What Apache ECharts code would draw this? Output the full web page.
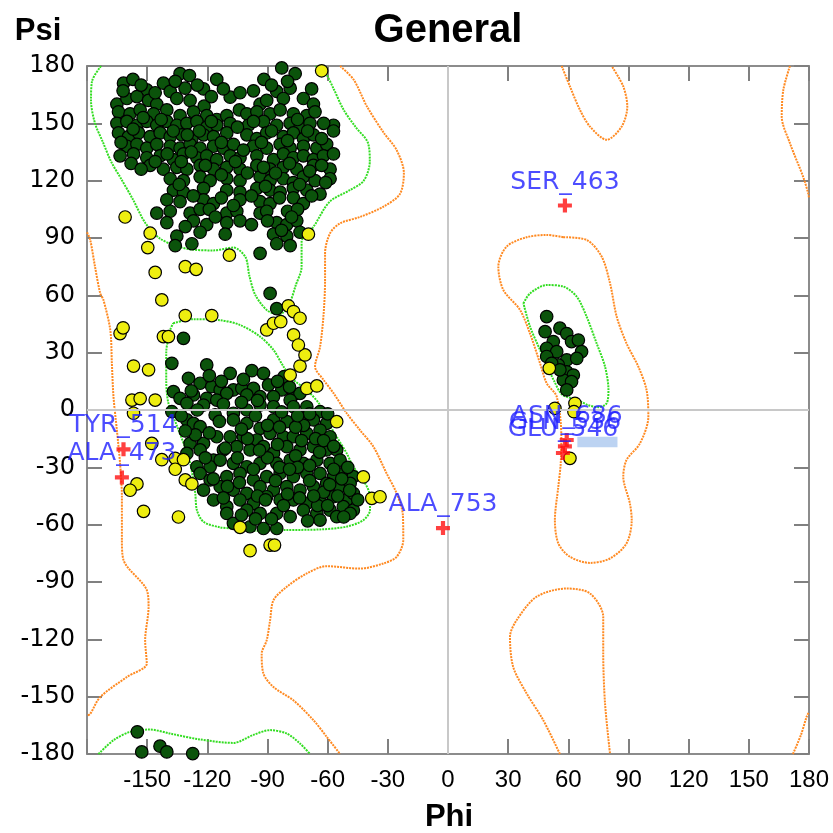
<!DOCTYPE html>
<html>
<head>
<meta charset="utf-8">
<script src="https://cdn.jsdelivr.net/npm/echarts@6/dist/echarts.min.js"></script>
<style>
  html, body { margin: 0; background: #fff; }
  #chart { width: 833px; height: 833px; }
</style>
</head>
<body>
<div id="chart"></div>
<script>
// axis ticks (degrees), same for phi and psi
const angleTicks = [-180, -150, -120, -90, -60, -30, 0, 30, 60, 90, 120, 150, 180];

// favoured residues [phi, psi] - beta region
const betaPoints = [
  [-133.6,176],[-128.9,175],[-82.9,179],[-76.2,176],
  [-161.8,171],[-157.1,173],[-115.3,173],[-91.8,173],
  [-150.2,167.5],[-141.9,171],[-138.5,166.7],[-131.1,168.4],[-121.9,168],[-108.6,163.7],[-103.7,166],[-85.4,166.7],[-78.7,168.4],[-72.1,163],
  [-165.1,160],[-160.1,163],[-155.1,164],[-149.3,162],[-145.2,160],[-135.2,163],[-128.6,162],[-121.6,159],[-93.7,160],[-90.4,162],[-82.1,163],[-67.1,160],
  [-164.3,156],[-158.5,155],[-153.5,157],[-146.8,155],[-140.2,157],[-133.6,154],[-126.9,156],[-120.3,154],[-115.3,152],[-110.3,154],[-104,157],[-100.3,155],[-95.3,156],[-88.7,155],[-83.7,157],[-77.1,155],[-70.4,154],[-66.3,156],
  [-165.1,150],[-160.1,151],[-155.1,149],[-150.2,151],[-145.2,149],[-140.2,151],[-135.2,149],[-130.2,150],[-125.2,151],[-120.3,148],[-115.3,149],[-108.6,150],[-99.5,149],[-92,151],[-85.4,149],[-78.7,150],[-73.8,148],[-68.8,150],[-57.1,149],
  [-164.3,145],[-159.3,143],[-154.3,145],[-148.5,143],[-143.5,145],[-138.5,143],[-132.7,144],[-127.7,142],[-121.9,144],[-116.9,143],[-110.3,145],[-100.3,144],[-95.3,142],[-90.4,145],[-82.1,143],[-77.1,145],[-72.1,142],[-67.1,144],[-57.1,146],
  [-160.1,138],[-155.1,139],[-150.2,137],[-145.2,139],[-138.5,138],[-133.6,137],[-128.6,139],[-123.6,137],[-116.9,138],[-112,137],[-107,139],[-97,138],[-90.4,137],[-83.7,139],[-78.7,137],[-72.1,138],[-65.4,137],[-60.5,139],
  [-163.5,133],[-156.8,134],[-150.2,132],[-143.5,133],[-136.9,131],[-131.9,134],[-125.2,132],[-120.3,133],[-115.3,131],[-108.6,133],[-103.7,132],[-95.3,133],[-87,131],[-82.1,134],[-77.1,132],[-72.1,133],[-67.1,131],[-62.1,133],[-57.1,134],
  [-148.5,128],[-141.9,126],[-135.2,127],[-130.2,126],[-123.6,128],[-116.9,126],[-110.3,127],[-103.7,126],[-95.3,128],[-88.7,126],[-82.1,127],[-75.4,126],[-67.1,128],[-58.8,126],
  [-138.5,121],[-131.9,120],[-123.6,122],[-118.6,120],[-110.3,121],[-103.7,120],[-93.7,122],[-88.7,120],[-82.1,121],[-77.1,119],[-72.1,122],[-66.3,120],[-58.8,121],
  [-136.9,115],[-131.9,114],[-121.9,116],[-110.3,115],[-103.7,114],[-95.3,116],[-88.7,115],[-83.7,114],[-77.1,116],[-70.4,115],[-63.8,113],
  [-140.2,110],[-133.6,109],[-121.9,110],[-116.9,108],[-103.7,110],[-93.7,109],[-88.7,108],[-77.1,111],[-72.1,108],
  [-145.2,103],[-138.5,104],[-128.6,103],[-123.6,105],[-110.3,103],[-105.3,104],[-93.7,103],[-90.4,104],
  [-140.2,98],[-126.9,99],[-120.3,97],[-110.3,98],[-103.7,99],[-85.4,98],[-80.4,97],[-75.4,99],
  [-135.2,91],[-123.6,93],[-111.1,92],[-87,92],[-80.4,91],[-73.8,93],
  [-136,86],[-127.7,87],[-85.4,87],[-78.7,86],[-93.7,82],
  [-162,167],[-153,170],[-146,166],[-136,172],[-125,170],[-118,164],[-112,168],[-97,167],[-88,170],[-80,172],[-68,168],
  [-163,140],[-157,147],[-152,153],[-143,152],[-137,146],[-130,144],[-124,146],[-118,151],[-113,140],[-105,148],[-102,136],
  [-97,151],[-93,140],[-88,146],[-80,141],[-75,152],[-70,146],[-63,142],[-62,150],
  [-158,129],[-153,126],[-146,130],[-140,134],[-133,130],[-128,135],[-121,128],[-113,123],[-106,130],[-100,124],[-92,127],
  [-86,124],[-79,129],[-74,118],[-69,125],[-63,128],[-61,119],
  [-134,118],[-127,112],[-119,105],[-113,111],[-107,107],[-98,112],[-91,117],[-84,111],[-80,104],[-75,105],[-68,112],
  [-131,96],[-116,101],[-98,97],[-90,99],[-83,94],[-78,101],
  [-88.7,61],
  [-154.9,-168.4],[-152.7,-178.9],[-143.6,-175.9],[-140.2,-178.9],[-127.3,-179.8]
];

// favoured residues - right-handed alpha region
const alphaPoints = [
  [-85.4,53],[-131.9,37.5],[-137.7,24.4],[-120.3,23.6],
  [-108.6,19.2],[-97.8,20.6],[-92,19.2],[-81.7,17.5],
  [-129.4,16.6],[-123.6,14],[-117.8,12.2],[-113.6,10.5],[-107,10.5],[-102.8,11.3],[-97,11.3],[-89.5,13.1],[-82.9,10.5],[-77.1,7.9],[-73.8,8.7],
  [-136.9,9.6],[-133.6,6.1],[-126.9,7.9],[-120.3,6.1],[-115.3,5.2],[-110.3,8.7],[-100.3,7.9],[-93.7,7],[-87,7],[-78.7,5.2],[-70.4,1.7],
  [-137.7,-0.9],[-130.2,3.5],[-121.9,2.6],[-116.1,-2.6],[-107,-1.7],[-100.3,0],[-93.7,2.6],[-87,1.7],[-77.1,1.7],[-63.8,-0.9],
  [-130.2,-5.2],[-126.9,-7],[-123.6,-8.7],[-107,-5.2],[-100.3,-7],[-93.7,-9.6],[-87,-5.2],[-80.4,-6.1],[-73.8,-3.5],[-67.1,-5.2],[-60.5,-7],
  [-128.6,-17.5],[-121.9,-17.5],[-115.3,-14],[-108.6,-14],[-102,-14],[-95.3,-15.7],[-88.7,-12.2],[-82.1,-14],[-77.1,-14],[-70.4,-12.2],[-63.8,-10.5],[-58.8,-14],
  [-130.2,-22.7],[-123.6,-20.9],[-116.9,-26.2],[-112,-20.9],[-105.3,-19.2],[-98.7,-20.9],[-92,-19.2],[-87,-22.7],[-80.4,-19.2],[-73.8,-20.9],[-67.1,-19.2],[-60.5,-20.9],[-55.5,-20.9],
  [-125.2,-29.7],[-118.6,-29.7],[-113.6,-26.2],[-107,-27.9],[-100.3,-29.7],[-93.7,-27.9],[-85.4,-27.9],[-78.7,-26.2],[-72.1,-27.9],[-65.4,-26.2],[-58.8,-27.9],[-53.8,-26.2],
  [-123.6,-33.2],[-118.6,-36.6],[-110.3,-34.9],[-103.7,-33.2],[-97,-36.6],[-90.4,-34.9],[-83.7,-33.2],[-77.1,-34.9],[-70.4,-33.2],[-63.8,-33.2],[-57.1,-34.9],[-52.2,-33.2],[-47.2,-34.9],
  [-121.9,-41.9],[-113.6,-40.1],[-107,-41.9],[-100.3,-43.6],[-93.7,-40.1],[-87,-41.9],[-80.4,-40.1],[-73.8,-41.9],[-67.1,-40.1],[-60.5,-38.4],[-53.8,-40.1],[-48.8,-38.4],
  [-116.9,-47.1],[-110.3,-50.6],[-103.7,-47.1],[-97,-48.9],[-90.4,-45.4],[-83.7,-47.1],[-77.1,-47.1],[-70.4,-48.9],[-63.8,-47.1],[-57.1,-45.4],[-50.5,-47.1],[-47.2,-43.6],
  [-110.3,-54.1],[-100.3,-52.4],[-93.7,-54.1],[-85.4,-54.1],[-78.7,-55.8],[-72.1,-52.4],[-65.4,-54.1],[-58.8,-52.4],[-52.2,-50.6],[-47.2,-52.4],
  [-107,-59.3],[-98.7,-61.1],[-92,-62],[-85.4,-62],[-63.8,-57.6],[-55.5,-55.8],[-48.8,-54.1],
  [-84,-30],[-76,-24],[-69,-37],[-62,-43],[-80,-44],[-66,-15],[-72,-8],[-57,-31],[-90,-25],[-95,-45],
  [-60,-2],[-75,-30],[-85,-18],[-65,-50],[-55,-45],[-50,-30],[-100,-15],[-110,-40],[-105,-25],[-70,-58],
  [-125,0],[-112,3],[-103,4],[-96,-3],[-90,-8],[-83,-1],[-76,-9],[-69,-2],[-64,-22],[-59,-39],[-53,-36],[-49,-42],
  [-45,-47],[-52,-56],[-60,-50],[-67,-45],[-74,-46],[-82,-50],[-88,-57],[-96,-57],[-103,-55],[-112,-46],[-117,-36],
  [-121,-25],[-126,-13],[-119,-12],[-111,-20],[-104,-38],[-97,-31],[-91,-47],[-86,-37],[-79,-31],[-73,-16],[-69,-29],
  [-62,-16],[-57,-19],[-94,-21],[-84,-9],[-114,-6],[-103,-10],[-131,-11],[-133,-3],[-128,10],[-119,18],[-113,15],
  [-102,16],[-95,5],[-85,15],[-79,12],[-75,-3]
];

// favoured residues - left-handed region
const leftPoints = [
  [49.2,48.9],[48.4,41],[55.8,42.8],[59.2,40],[61.6,35.8],[65,36.6],[66.6,30.5],[52.5,35.8],[49.2,32.3],[54.2,30.5],
  [49.2,28],[59.2,26.2],[64.2,27],[55,23.6],[51.7,24.4],[59.2,20],[62.5,18.3],[57.5,15.7],[61.6,14.8],[59.2,10.5],[55.8,21]
];

// allowed residues
const allowedPoints = [
  [-161,101],[-148.5,92.5],[-149.7,85],[-146,72],[-131,75],[-125.6,73.6],[-109,81],[-69.6,92],[-63,177.5],[-142.7,57.6],
  [-131,49.4],[-117.8,49.4],[-163.5,40],[-162,43],[-141.9,38.4],[-139.4,38.4],[-156.8,23],[-149.3,21],
  [-157.6,5.2],[-153.5,6],[-146,5.2],[-156.8,-1.7],[-147.7,-17.5],[-142.7,-26],[-136,-25.3],[-131.9,-26],[-136,-31],
  [-131,-36.6],[-127.7,-38.7],[-155.1,-38.7],[-158.5,-42],[-151.8,-53],[-134.4,-56],[-103.7,-61.4],[-98.7,-73.6],
  [-88.7,-70.7],[-86.5,-70.7],[-55.5,-6.1],[-42.2,-35],[-38,-46.2],[-33.9,-45.4],[-70.4,11.3],[-65.4,12.6],[-78.7,18.3],
  [-73.8,23],[-71.3,28.8],[-77,39.3],[-74.6,34],[-90.4,41.9],[-87,45.4],[-83.4,46.2],[-79.6,54.5],[-77,51.5],[-73.8,48],
  [50.5,21.8],[53.3,0.9],[63.3,3.5],[62.8,-0.9],[60.8,-25.3]
];

// outliers
const outlierNames = ['SER_463', 'ALA_753', 'TYR_514', 'ALA_473', 'ASN_686', 'GLN_536', 'GLU_546'];
const outlierPhi = [58.3, -2.5, -161.8, -162.6, 59.2, 58.3, 57.3];
const outlierPsi = [107, -61.8, -20.6, -35.3, -15.7, -19, -22.5];

// contour lines [phi, psi]
const favouredContours = [
  [[-173,180],[-177.5,172],[-178,162],[-176,150],[-172,140],[-168,130],[-163,121],[-157,110],[-151,98],[-144,90],[-136,86],[-128,84],[-117,83.5],[-107,85],[-101,80],[-99,70],[-96,60],[-90,52],[-84,50],[-79,56],[-76,65],[-73,75],[-73,88],[-67,96],[-59,109],[-49,115],[-42,120],[-39,130],[-40,140],[-46,148],[-52,157],[-57,168],[-61,176],[-66,180]],
  [[-174.3,-180],[-166.8,-172.8],[-158.5,-168.4],[-148.6,-167.2],[-138.6,-169.3],[-123.6,-172.4],[-107,-174.2],[-97,-170],[-88.7,-167.5],[-80.4,-169.3],[-73.8,-174.5],[-68.8,-180]],
  [[-137,45.4],[-127,47.5],[-113.6,47],[-103.7,44.5],[-93.7,38.4],[-87,31.4],[-82,22.7],[-77,15.7],[-70.4,10.5],[-63.8,2.6],[-60.5,-5.2],[-55.5,-14],[-50.5,-22.7],[-47.2,-29.7],[-42.2,-36.6],[-38.9,-45.4],[-38.9,-52.4],[-42.2,-57.6],[-50.5,-61],[-63.8,-62.5],[-80.4,-62.8],[-93.7,-63.2],[-107,-62],[-113.6,-61.4],[-121.9,-58.5],[-125.2,-52.4],[-126,-43.6],[-127,-36.6],[-129,-26],[-135,-8.7],[-139.4,3.5],[-140.5,15.7],[-140.5,29.7],[-138.5,41.9],[-137,45.4]],
  [[37.6,55.8],[40.9,61],[49.2,65.4],[57.5,64.6],[64.2,59.3],[69.1,48.9],[74.1,34.9],[78.3,22.7],[80,10.5],[79.1,3.5],[75,1.5],[70,2.5],[64,5.5],[57,8],[53,15],[49,24],[45.9,31.4],[40.9,43.6],[37.6,55.8]]
];
const allowedContours = [
  [[-53.8,180],[-47,172.8],[-40.5,159],[-32,145],[-25.6,136],[-22,124],[-24,113],[-32,106.5],[-43.9,101],[-53.8,97.7],[-58.8,92.5],[-61.3,82],[-61.3,68],[-62,50.6],[-63.8,33],[-66.3,22.7],[-62,15.7],[-57,8.7],[-50.5,-1.7],[-43.9,-10.5],[-37.2,-19.2],[-30.6,-33.2],[-25.6,-43.6],[-22.5,-55],[-22.3,-68],[-25.6,-76.8],[-32.2,-80.3],[-43.9,-83],[-60.5,-81.7],[-70.4,-85.5],[-80.4,-92.5],[-87,-99.5],[-88.7,-110],[-90.4,-120.5],[-92.9,-127.5],[-92,-138],[-87,-145],[-77,-152],[-67,-162.4],[-60.5,-171],[-53.8,-180]],
  [[-180,93],[-178.4,89],[-176,75],[-173.4,61],[-171.8,57.6],[-168.4,41.9],[-167.6,24.4],[-166.8,7],[-165.1,-10.5],[-163.5,-28],[-162.6,-45.4],[-162.6,-68],[-161.8,-78.5],[-150.2,-94.2],[-149.3,-103],[-151,-120.5],[-150.2,-132.7],[-160.1,-139.7],[-173.4,-150.2],[-178.4,-159],[-180,-160]],
  [[172,-180],[176,-170],[178.8,-160.6],[180,-158]],
  [[170.5,180],[167.2,167.5],[166.4,153.6],[170.5,139.6],[177.1,122],[179.6,113.4],[180,111]],
  [[56.7,180],[60.8,169.3],[65.8,157],[70.8,148.3],[79.1,141.4],[86.6,148.3],[89.4,158.8],[87.4,169.3],[81.6,180]],
  [[55.8,-180],[47.5,-162.3],[39.2,-148.3],[32.5,-134.4],[30.9,-118.7],[34.2,-110],[44.2,-97.7],[59.2,-93.4],[70.8,-96],[77.4,-108.2],[77.4,-127.4],[78.3,-153.6],[80.8,-180]],
  [[57.5,90.4],[69.1,89],[76.6,80.3],[80.8,66.3],[84.1,48.9],[89,34.9],[94.9,22.7],[99,10.5],[99.9,-3.5],[95.7,-17.5],[89,-26.2],[87.4,-34.9],[90.7,-48.9],[91.6,-57.6],[89,-69.8],[80.8,-77.7],[70.8,-80],[60.8,-76.8],[55,-69.8],[53.3,-57.6],[55,-40.1],[56.2,-28],[56.5,-14],[54.2,7],[49.2,14],[45.9,24.4],[40.9,40],[35.9,52.4],[27.6,62.8],[25.1,75],[29.2,85.5],[39.2,90.4],[49.2,91.6],[57.5,90.4]]
];

const chart = echarts.init(document.getElementById('chart'));

const frameAxis = {
  type: 'value',
  min: angleTicks[0],
  max: angleTicks[angleTicks.length - 1],
  interval: 30,
  splitLine: { show: false },
  axisLine: { show: true, onZero: false, lineStyle: { color: '#8c8c8c', width: 2 } },
  axisTick: { show: true, inside: true, length: 15, lineStyle: { color: '#808080', width: 2 } }
};

const contourSeries = (lines, color) => lines.map(pts => ({
  type: 'line',
  data: pts,
  symbol: 'none',
  smooth: 0.3,
  silent: true,
  z: 2,
  lineStyle: { color: color, width: 2, type: [2, 1] }
}));

const dotSeries = (pts, color) => ({
  type: 'scatter',
  data: pts,
  symbolSize: 12.5,
  silent: true,
  z: 3,
  itemStyle: { color: color, borderColor: '#000', borderWidth: 1.2, opacity: 1 }
});

const outliers = outlierNames.map((n, i) => ({ name: n, value: [outlierPhi[i], outlierPsi[i]] }));

const option = {
  animation: false,
  backgroundColor: '#fff',
  grid: { left: 87, right: 24, top: 66, bottom: 79 },
  xAxis: [
    Object.assign({}, frameAxis, {
      position: 'bottom',
      axisLabel: {
        margin: 14, color: '#000', fontSize: 24, fontFamily: 'Liberation Sans',
        formatter: v => (v === angleTicks[0] ? '' : String(v))
      }
    }),
    Object.assign({}, frameAxis, { position: 'top', axisLabel: { show: false } })
  ],
  yAxis: [
    Object.assign({}, frameAxis, {
      position: 'left',
      axisLabel: { margin: 12, color: '#000', fontSize: 24, fontFamily: 'DejaVu Sans' }
    }),
    Object.assign({}, frameAxis, { position: 'right', axisLabel: { show: false } })
  ],
  graphic: [
    { type: 'text', x: 448, y: 31, style: { text: 'General', font: 'bold 40px "Liberation Sans"', fill: '#000', textAlign: 'center', textVerticalAlign: 'middle' } },
    { type: 'text', x: 38, y: 31, style: { text: 'Psi', font: 'bold 31px "Liberation Sans"', fill: '#000', textAlign: 'center', textVerticalAlign: 'middle' } },
    { type: 'text', x: 449, y: 817, style: { text: 'Phi', font: 'bold 31px "Liberation Sans"', fill: '#000', textAlign: 'center', textVerticalAlign: 'middle' } }
  ],
  series: [
    {
      type: 'line', data: [], silent: true, z: 1,
      markLine: {
        silent: true, symbol: 'none', label: { show: false },
        lineStyle: { color: '#c8c8c8', width: 2, type: 'solid' },
        data: [{ xAxis: 0 }, { yAxis: 0 }]
      }
    },
    ...contourSeries(allowedContours, '#ff8a22'),
    ...contourSeries(favouredContours, '#33dd22'),
    dotSeries(betaPoints, '#0b530b'),
    dotSeries(alphaPoints, '#0b530b'),
    dotSeries(leftPoints, '#0b530b'),
    dotSeries(allowedPoints, '#eeee10'),
    {
      type: 'scatter',
      data: outliers,
      symbol: 'path://M3.5,0H6.5V3.5H10V6.5H6.5V10H3.5V6.5H0V3.5H3.5Z',
      symbolSize: 14,
      silent: true,
      z: 5,
      itemStyle: { color: '#ff1010' },
      label: {
        show: true, position: 'top', distance: 4, formatter: '{b}',
        color: '#1f1fff', fontSize: 25, fontFamily: 'DejaVu Sans'
      },
      markArea: {
        silent: true,
        itemStyle: { color: '#bcd3f2' },
        data: [[{ coord: [64.5, -14] }, { coord: [84.5, -19.5] }]]
      }
    }
  ]
};

chart.setOption(option);
</script>
</body>
</html>
